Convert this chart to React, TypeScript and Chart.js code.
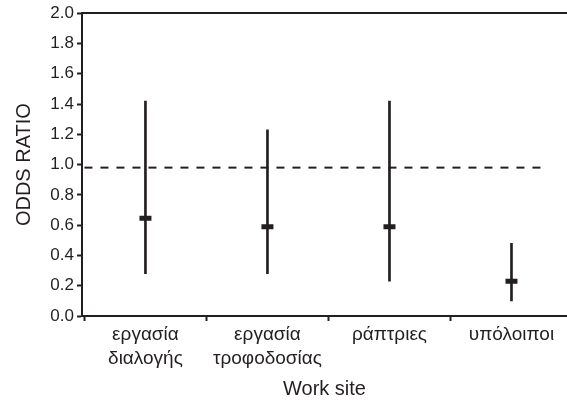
import React, { useEffect, useRef } from "react";
import { Chart, registerables } from "chart.js";

Chart.register(...registerables);

const categories: string[][] = [
  ["εργασία", "διαλογής"],
  ["εργασία", "τροφοδοσίας"],
  ["ράπτριες"],
  ["υπόλοιποι"],
];
const oddsRatio = [0.645, 0.59, 0.59, 0.23];
const lowerCI = [0.28, 0.28, 0.23, 0.1];
const upperCI = [1.42, 1.23, 1.42, 0.48];
const yTicks = [0, 0.2, 0.4, 0.6, 0.8, 1.0, 1.2, 1.4, 1.6, 1.8, 2.0];
const referenceValue = 0.98;
const referenceSpan = [0.5, 4.25];

const INK = "#231f20";
const FONT = "'Liberation Sans', Arial, Helvetica, sans-serif";

export default function App() {
  const ref = useRef<HTMLCanvasElement | null>(null);

  useEffect(() => {
    if (!ref.current) return;
    const positions = categories.map((_, i) => i + 1);
    const chart = new Chart(ref.current, {
      type: "bar",
      data: {
        datasets: [
          {
            type: "bar",
            label: "95% CI",
            data: positions.map((x, i) => ({ x, y: [lowerCI[i], upperCI[i]] })) as any,
            backgroundColor: INK,
            borderWidth: 0,
            barThickness: 2,
            order: 2,
          } as any,
          {
            type: "line",
            label: "Odds ratio",
            data: positions.map((x, i) => ({ x, y: oddsRatio[i] })),
            showLine: false,
            pointStyle: "line",
            pointRadius: 6,
            pointBorderWidth: 5,
            borderColor: INK,
            backgroundColor: INK,
            order: 1,
          } as any,
          {
            type: "line",
            label: "reference",
            data: referenceSpan.map((x) => ({ x, y: referenceValue })),
            borderColor: INK,
            borderWidth: 2,
            borderDash: [8, 8],
            pointRadius: 0,
            fill: false,
            order: 0,
          } as any,
        ],
      },
      options: {
        responsive: false,
        animation: false,
        layout: { autoPadding: false, padding: { top: 13, right: 0, left: 0, bottom: 0 } },
        plugins: {
          legend: { display: false },
          tooltip: { enabled: false },
        },
        scales: {
          x: {
            type: "linear",
            position: "bottom",
            min: 0.48,
            max: 4.455,
            offset: false,
            afterBuildTicks: (scale: any) => {
              const t: any[] = [];
              positions.forEach((p) => {
                t.push({ value: p - 0.5 });
                t.push({ value: p });
              });
              scale.ticks = t;
            },
            afterFit: (scale: any) => {
              scale.height = 85;
              scale.paddingRight = 0;
              scale.paddingLeft = 0;
            },
            grid: {
              display: true,
              drawOnChartArea: false,
              offset: false,
              tickLength: 5,
              tickWidth: 2,
              tickColor: (ctx: any) =>
                ctx.tick && Number.isInteger(ctx.tick.value) ? "rgba(0,0,0,0)" : INK,
            },
            border: { display: true, color: INK, width: 2 },
            ticks: {
              autoSkip: false,
              maxRotation: 0,
              minRotation: 0,
              padding: 2,
              color: INK,
              font: { family: FONT, size: 19, lineHeight: 1.25 },
              callback: (value: any) => {
                const v = Number(value);
                return Number.isInteger(v) ? categories[v - 1] : "";
              },
            },
            title: {
              display: true,
              text: "Work site",
              color: INK,
              font: { family: FONT, size: 20 },
              padding: { top: 0, bottom: 0 },
            },
          },
          xTop: {
            type: "linear",
            position: "top",
            min: 0.48,
            max: 4.455,
            grid: { display: false },
            ticks: { display: false },
            border: { display: true, color: INK, width: 2 },
            afterFit: (scale: any) => {
              scale.height = 0;
              scale.paddingRight = 0;
              scale.paddingLeft = 0;
            },
          },
          y: {
            type: "linear",
            min: 0,
            max: 2,
            afterBuildTicks: (scale: any) => {
              scale.ticks = yTicks.map((v) => ({ value: v }));
            },
            afterFit: (scale: any) => {
              scale.width = 82;
            },
            grid: {
              display: true,
              drawOnChartArea: false,
              tickLength: 5,
              tickWidth: 2,
              tickColor: INK,
            },
            border: { display: true, color: INK, width: 2 },
            ticks: {
              padding: 3,
              color: INK,
              font: { family: FONT, size: 17 },
              callback: (value: any) => Number(value).toFixed(1),
            },
            title: {
              display: true,
              text: "ODDS RATIO",
              color: INK,
              font: { family: FONT, size: 20 },
              padding: { top: 12, bottom: 4 },
            },
          },
        },
      } as any,
    });
    return () => chart.destroy();
  }, []);

  return (
    <div style={{ position: "fixed", left: 0, top: 0, width: 567, height: 401, background: "#fff" }}>
      <canvas ref={ref} width={567} height={401} style={{ width: 567, height: 401 }} />
    </div>
  );
}
